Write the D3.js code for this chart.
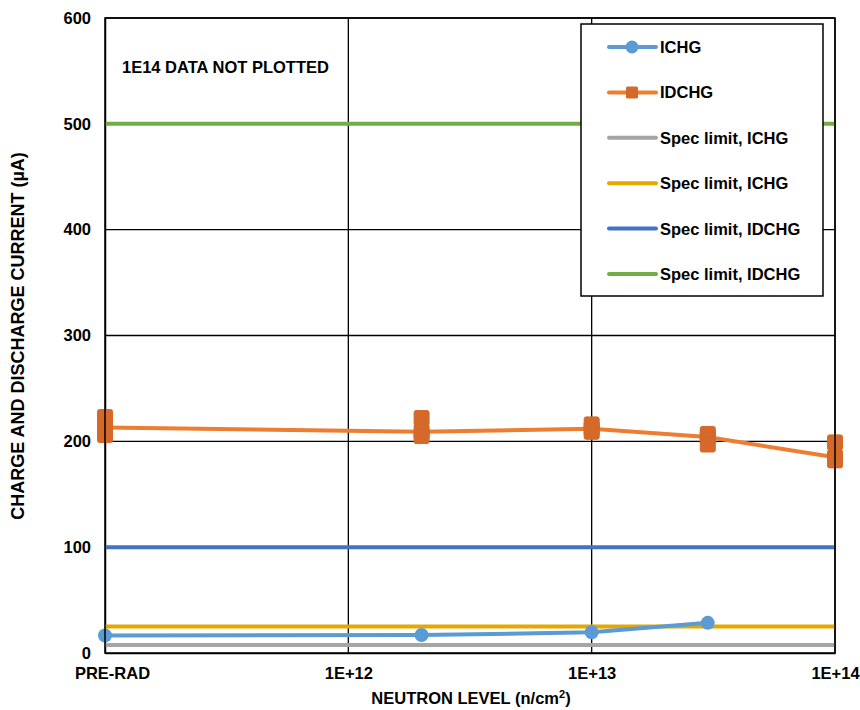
<!DOCTYPE html>
<html>
<head>
<meta charset="utf-8">
<script src="https://d3js.org/d3.v7.min.js"></script>
<style>
  body { margin: 0; background: #fff; }
  text { font-family: "Liberation Sans", Arial, sans-serif; font-weight: bold; fill: #000; }
</style>
</head>
<body>
<div id="chart"></div>
<script>
// neutron levels (PRE-RAD drawn at 1E11 on the log axis)
var levels = [1e11, 2e12, 1e13, 3e13, 1e14]
var tickVals = [1e11, 1e12, 1e13, 1e14]
var tickNames = ["PRE-RAD", "1E+12", "1E+13", "1E+14"]

// ICHG (µA)
var ichgLevels = [1e11, 2e12, 1e13, 3e13]
var ichg = [16.5, 17, 19.5, 28.5]

// IDCHG (µA) - line unit plus two other units shown as markers
var idchg = [213, 209, 212, 204, 185]
var idchgHigh = [223, 222, 216, 207, 199]
var idchgLow = [206, 205, 209, 197, 182]

// spec limits
var specNames = ["Spec limit, ICHG", "Spec limit, ICHG", "Spec limit, IDCHG", "Spec limit, IDCHG"]
var specValues = [7.5, 25, 100, 500]
var specColors = ["#A5A5A5", "#E5A800", "#4472C4", "#70AD47"]

var width = 860, height = 710
var margin = { top: 18, right: 25, bottom: 57, left: 105 }
var fs = 16.5

var svg = d3.select("#chart").append("svg")
    .attr("width", width)
    .attr("height", height)

var x = d3.scaleLog().domain([1e11, 1e14]).range([margin.left, width - margin.right])
var y = d3.scaleLinear().domain([0, 600]).range([height - margin.bottom, margin.top])

// gridlines
svg.append("g")
    .selectAll("line")
    .data(d3.range(100, 601, 100))
    .enter().append("line")
    .attr("x1", margin.left).attr("x2", width - margin.right)
    .attr("y1", d => y(d)).attr("y2", d => y(d))
    .attr("stroke", "#000").attr("stroke-width", 1.3)

svg.append("g")
    .selectAll("line")
    .data(tickVals.slice(1))
    .enter().append("line")
    .attr("x1", d => x(d)).attr("x2", d => x(d))
    .attr("y1", y(0)).attr("y2", y(600))
    .attr("stroke", "#000").attr("stroke-width", 1.3)

// axes
var xAxis = svg.append("g")
    .attr("transform", "translate(0," + y(0) + ")")
    .call(d3.axisBottom(x).tickValues(tickVals).tickSize(0).tickPadding(14).tickFormat((d, i) => tickNames[i]))
xAxis.select(".domain").attr("stroke", "#000").attr("stroke-width", 1.5)
xAxis.selectAll("text").attr("font-size", fs)
xAxis.selectAll("text").filter((d, i) => i == 0).attr("dx", 7)

var yAxis = svg.append("g")
    .attr("transform", "translate(" + margin.left + ",0)")
    .call(d3.axisLeft(y).tickValues(d3.range(0, 601, 100)).tickSize(0).tickPadding(14))
yAxis.select(".domain").attr("stroke", "#000").attr("stroke-width", 1.5)
yAxis.selectAll("text").attr("font-size", fs)

// axis titles
var xTitle = svg.append("text")
    .attr("x", 471).attr("y", 704)
    .attr("text-anchor", "middle")
    .attr("font-size", fs)
xTitle.append("tspan").text("NEUTRON LEVEL (n/cm")
xTitle.append("tspan").attr("dy", -6).attr("font-size", 11).text("2")
xTitle.append("tspan").attr("dy", 6).text(")")

svg.append("text")
    .attr("transform", "translate(24," + 336 + ") rotate(-90)")
    .attr("text-anchor", "middle")
    .attr("font-size", 18)
    .text("CHARGE AND DISCHARGE CURRENT (µA)")

// spec limit lines
svg.append("g")
    .selectAll("line")
    .data(specValues)
    .enter().append("line")
    .attr("x1", margin.left).attr("x2", width - margin.right)
    .attr("y1", d => y(d)).attr("y2", d => y(d))
    .attr("stroke", (d, i) => specColors[i])
    .attr("stroke-width", 4)

// ICHG series
var line = d3.line().x(d => x(d[0])).y(d => y(d[1]))
svg.append("path")
    .datum(ichgLevels.map((l, i) => [l, ichg[i]]))
    .attr("d", line)
    .attr("fill", "none").attr("stroke", "#5B9BD5").attr("stroke-width", 4)
svg.append("g").selectAll("circle")
    .data(ichgLevels.map((l, i) => [l, ichg[i]]))
    .enter().append("circle")
    .attr("cx", d => x(d[0])).attr("cy", d => y(d[1])).attr("r", 7)
    .attr("fill", "#5B9BD5")

// IDCHG series
svg.append("path")
    .datum(levels.map((l, i) => [l, idchg[i]]))
    .attr("d", line)
    .attr("fill", "none").attr("stroke", "#ED7D31").attr("stroke-width", 4)

var sq = 15
var idPts = []
levels.forEach(function (l, i) {
    idPts.push([l, idchgHigh[i]])
    idPts.push([l, idchg[i]])
    idPts.push([l, idchgLow[i]])
})
svg.append("g").selectAll("rect")
    .data(idPts)
    .enter().append("rect")
    .attr("x", d => x(d[0]) - sq / 2).attr("y", d => y(d[1]) - sq / 2)
    .attr("width", sq).attr("height", sq).attr("rx", 2)
    .attr("fill", "#D4692A").attr("stroke", "#D4692A").attr("stroke-width", 1)

// plot frame top/right
svg.append("rect")
    .attr("x", margin.left).attr("y", margin.top)
    .attr("width", width - margin.right - margin.left)
    .attr("height", y(0) - margin.top)
    .attr("fill", "none").attr("stroke", "#000").attr("stroke-width", 1.5)

// note
svg.append("text")
    .attr("x", 122).attr("y", 73)
    .attr("font-size", fs)
    .text("1E14 DATA NOT PLOTTED")

// legend
var legendNames = ["ICHG", "IDCHG"].concat(specNames)
var legendColors = ["#5B9BD5", "#ED7D31"].concat(specColors)
var lg = svg.append("g").attr("transform", "translate(581,24)")
lg.append("rect")
    .attr("width", 242).attr("height", 272)
    .attr("fill", "#fff").attr("stroke", "#000").attr("stroke-width", 1.5)
var item = lg.selectAll(".item")
    .data(legendNames)
    .enter().append("g")
    .attr("class", "item")
    .attr("transform", (d, i) => "translate(0," + (23 + i * 45.4) + ")")
item.append("line")
    .attr("x1", 28).attr("x2", 75)
    .attr("stroke", (d, i) => legendColors[i]).attr("stroke-width", 4)
    .attr("stroke-linecap", "round")
item.filter((d, i) => i == 0).append("circle")
    .attr("cx", 51).attr("r", 6.5).attr("fill", "#5B9BD5")
item.filter((d, i) => i == 1).append("rect")
    .attr("x", 45).attr("y", -6).attr("width", 12).attr("height", 12).attr("rx", 1.5)
    .attr("fill", "#D4692A")
item.append("text")
    .attr("x", 79).attr("dy", "0.36em")
    .attr("font-size", fs)
    .text(d => d)
</script>
</body>
</html>
